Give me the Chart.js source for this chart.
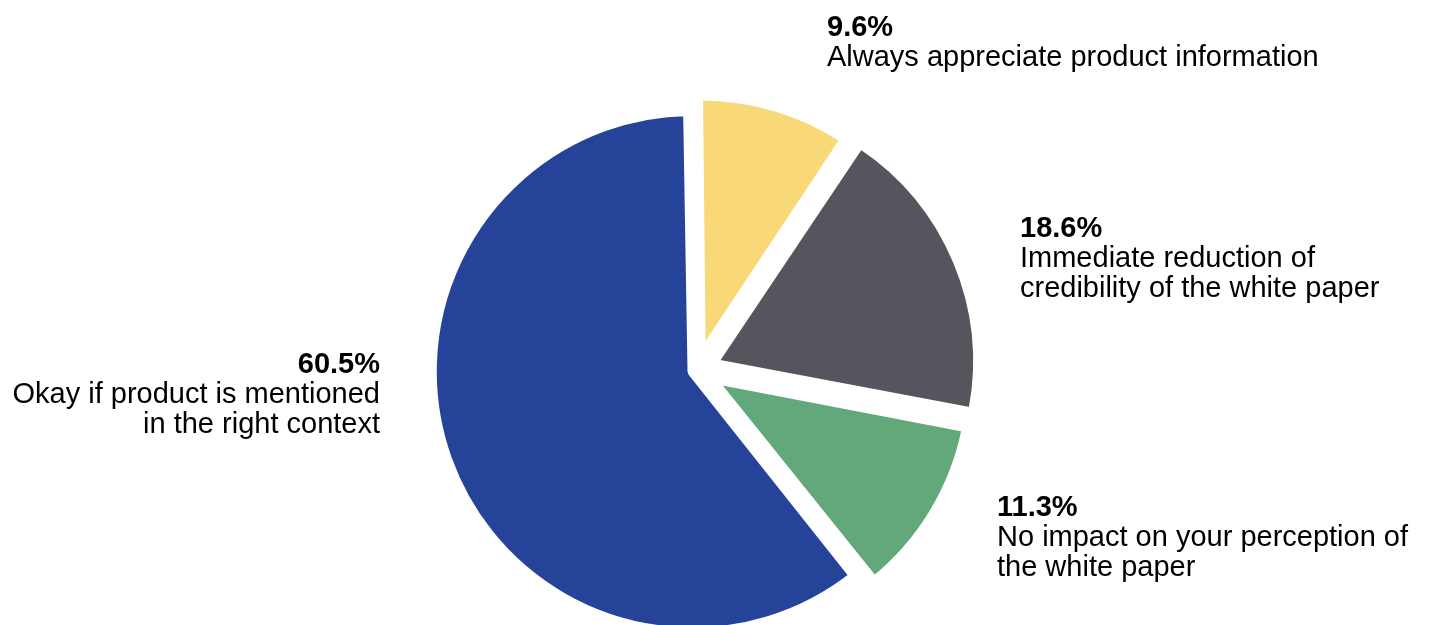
<!DOCTYPE html>
<html>
<head>
<meta charset="utf-8">
<script src="https://cdn.jsdelivr.net/npm/chart.js@4.4.0/dist/chart.umd.min.js"></script>
<style>
html, body { margin: 0; padding: 0; background: #fff; }
#wrap { width: 1429px; height: 625px; position: relative; }
</style>
</head>
<body>
<div id="wrap"><canvas id="pie"></canvas></div>
<script>
// slices, clockwise from 12 o'clock
const categories = [
    ['Always appreciate product information'],
    ['Immediate reduction of', 'credibility of the white paper'],
    ['No impact on your perception of', 'the white paper'],
    ['Okay if product is mentioned', 'in the right context']
];
const shares = [9.6, 18.6, 11.3, 60.5];
const sliceColors = ['#F9D878', '#54555D', '#62A87B', '#254399'];
const explode = [53, 88, 62, 19];
const gapWidth = [10, 4, 10, 10];

// where each text block sits (baseline of the bold line)
const labelPos = [
    {x: 827, y: 36, align: 'left'},
    {x: 1020, y: 237, align: 'left'},
    {x: 997, y: 516, align: 'left'},
    {x: 380, y: 373, align: 'right'}
];

const sliceLabels = {
    id: 'sliceLabels',
    afterDraw(chart) {
        const ctx = chart.ctx;
        ctx.save();
        ctx.fillStyle = '#000';
        ctx.textBaseline = 'alphabetic';
        for (let i = 0; i < shares.length; i++) {
            const p = labelPos[i];
            ctx.textAlign = p.align;
            ctx.font = 'bold 29px "Liberation Sans", Arial, sans-serif';
            ctx.fillText(shares[i].toFixed(1) + '%', p.x, p.y);
            ctx.font = '29px "Liberation Sans", Arial, sans-serif';
            categories[i].forEach((line, k) => {
                ctx.fillText(line, p.x, p.y + 30 * (k + 1));
            });
        }
        ctx.restore();
    }
};

new Chart(document.getElementById('pie').getContext('2d'), {
    type: 'pie',
    data: {
        labels: categories,
        datasets: [{
            data: shares,
            backgroundColor: sliceColors,
            borderColor: '#ffffff',
            borderWidth: gapWidth,
            offset: explode,
            hoverOffset: 0
        }]
    },
    options: {
        responsive: true,
        maintainAspectRatio: false,
        animation: false,
        events: [],
        rotation: -0.8,
        radius: 256,
        layout: { padding: { left: 0, right: 35, top: 115, bottom: 0 } },
        plugins: {
            legend: { display: false },
            tooltip: { enabled: false }
        }
    },
    plugins: [sliceLabels]
});
</script>
</body>
</html>
